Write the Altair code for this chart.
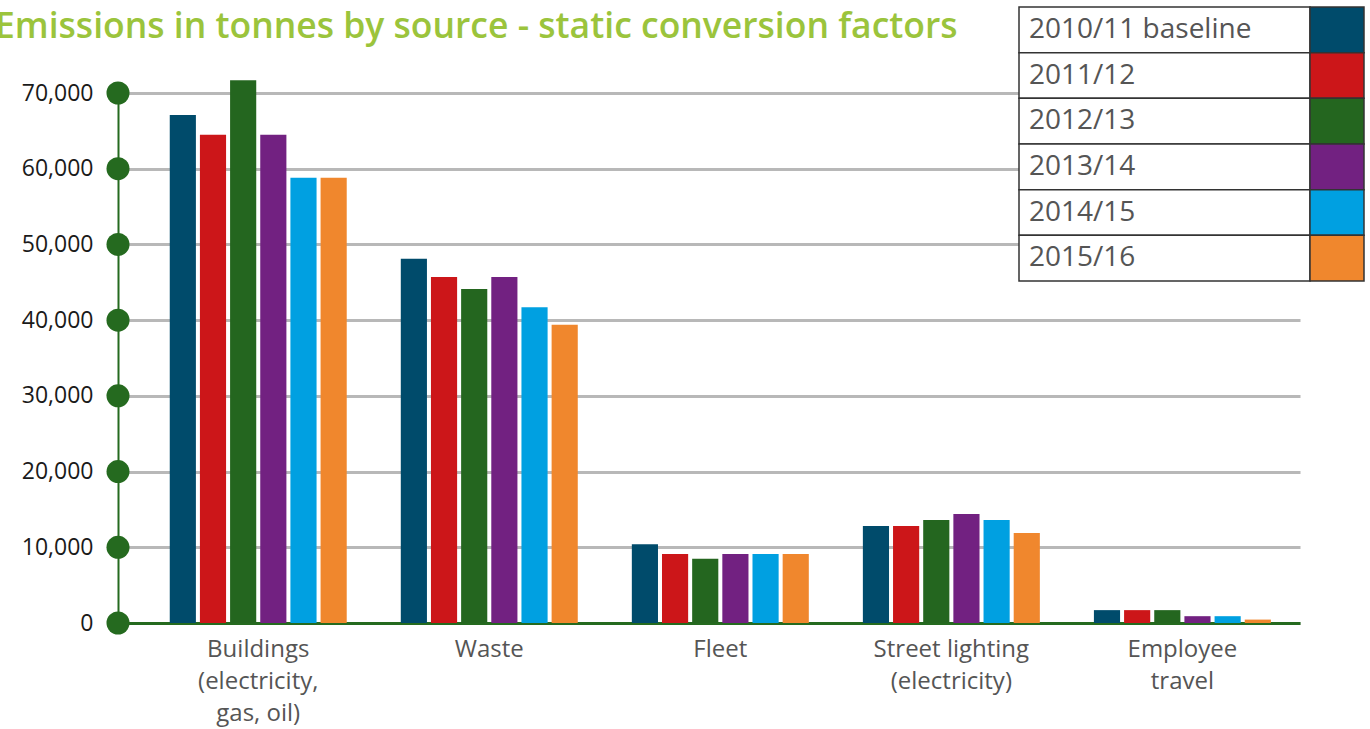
import altair as alt
import pandas as pd

# Emission sources (x categories); "\n" marks a line break in the axis label
categories = [
    "Buildings\n(electricity,\ngas, oil)",
    "Waste",
    "Fleet",
    "Street lighting\n(electricity)",
    "Employee\ntravel",
]

# Reporting years
series = ["2010/11 baseline", "2011/12", "2012/13", "2013/14", "2014/15", "2015/16"]
colors = ["#004b6b", "#cc1619", "#24661f", "#722181", "#00a0e1", "#f0872d"]

# Tonnes of emissions per source, one list per year (same order as categories)
baseline_2010_11 = [67100, 48100, 10400, 12800, 1700]
year_2011_12 = [64500, 45700, 9100, 12800, 1700]
year_2012_13 = [71700, 44100, 8500, 13600, 1700]
year_2013_14 = [64500, 45700, 9100, 14400, 900]
year_2014_15 = [58800, 41700, 9100, 13600, 900]
year_2015_16 = [58800, 39400, 9100, 11900, 450]

# y-axis ticks (also drawn as the round markers on the axis)
y_ticks = [0, 10000, 20000, 30000, 40000, 50000, 60000, 70000]

values_by_series = [baseline_2010_11, year_2011_12, year_2012_13,
                    year_2013_14, year_2014_15, year_2015_16]
rows = []
for s, vals in zip(series, values_by_series):
    for c, v in zip(categories, vals):
        rows.append({"source": c, "year": s, "tonnes": v})
df = pd.DataFrame(rows)
ticks_df = pd.DataFrame({"tonnes": y_ticks})
legend_df = pd.DataFrame({"year": series})

FONT = "Open Sans"
AXIS_GREEN = "#256a1f"
W, H = 1182, 530

color_scale = alt.Scale(domain=series, range=colors)
y_scale = alt.Scale(domain=[0, 70000], nice=False, zero=True)
y_axis = alt.Axis(
    title=None,
    values=y_ticks,
    format=",d",
    labelFont=FONT,
    labelFontSize=23,
    labelColor="#1a1a1a",
    labelPadding=25,
    ticks=False,
    domainColor=AXIS_GREEN,
    domainWidth=2,
    grid=True,
    gridColor="#b8b8b8",
    gridWidth=3,
)

bars = alt.Chart(df).mark_bar().encode(
    x=alt.X(
        "source:N",
        sort=categories,
        scale=alt.Scale(paddingInner=0.234, paddingOuter=0.175, align=0.64),
        axis=alt.Axis(
            title=None,
            labelAngle=0,
            labelExpr="split(datum.label, '\\n')",
            labelFont=FONT,
            labelFontSize=24,
            labelColor="#555555",
            labelLineHeight=32,
            labelBaseline="top",
            labelPadding=14,
            ticks=False,
            domainColor=AXIS_GREEN,
            domainWidth=3,
            grid=False,
        ),
    ),
    xOffset=alt.XOffset("year:N", sort=series,
                        scale=alt.Scale(paddingInner=0.133, paddingOuter=0)),
    y=alt.Y("tonnes:Q", scale=y_scale, axis=y_axis),
    color=alt.Color("year:N", scale=color_scale, legend=None),
)

dots = alt.Chart(ticks_df).mark_circle(
    size=530, color=AXIS_GREEN, opacity=1
).encode(
    x=alt.value(0),
    y=alt.Y("tonnes:Q", scale=y_scale, axis=y_axis),
)

# Table-style legend in the upper right corner
leg_y = alt.Y("year:N", sort=series,
              scale=alt.Scale(range=[-86, 188], paddingInner=0, paddingOuter=0),
              axis=None)

legend_cells = alt.Chart(legend_df).mark_rect(
    fill="white", stroke="#333333", strokeWidth=1.5
).encode(x=alt.value(901), x2=alt.value(1192), y=leg_y)

legend_swatches = alt.Chart(legend_df).mark_rect(
    stroke="#333333", strokeWidth=1.5
).encode(
    x=alt.value(1192), x2=alt.value(1246), y=leg_y,
    color=alt.Color("year:N", scale=color_scale, legend=None),
)

legend_text = alt.Chart(legend_df).mark_text(
    align="left", baseline="middle", font=FONT, fontSize=28, color="#555555"
).encode(x=alt.value(911), y=leg_y, text="year:N")

plot = alt.layer(bars, dots)
legend = alt.layer(legend_cells, legend_swatches, legend_text)

chart = alt.layer(plot, legend).resolve_scale(
    y="independent", x="independent"
).properties(
    width=W,
    height=H,
    title=alt.TitleParams(
        "Emissions in tonnes by source - static conversion factors",
        anchor="start",
        frame="group",
        font=FONT,
        fontSize=35.5,
        fontWeight=600,
        color="#9bc43c",
        dx=-123,
        dy=67,
        baseline="alphabetic",
        offset=0,
    ),
    autosize=alt.AutoSizeParams(type="none"),
    padding={"left": 118, "top": 93, "right": 70, "bottom": 106},
).configure_view(stroke=None)

chart.save("out.html", embed_options={"renderer": "svg", "actions": False})
